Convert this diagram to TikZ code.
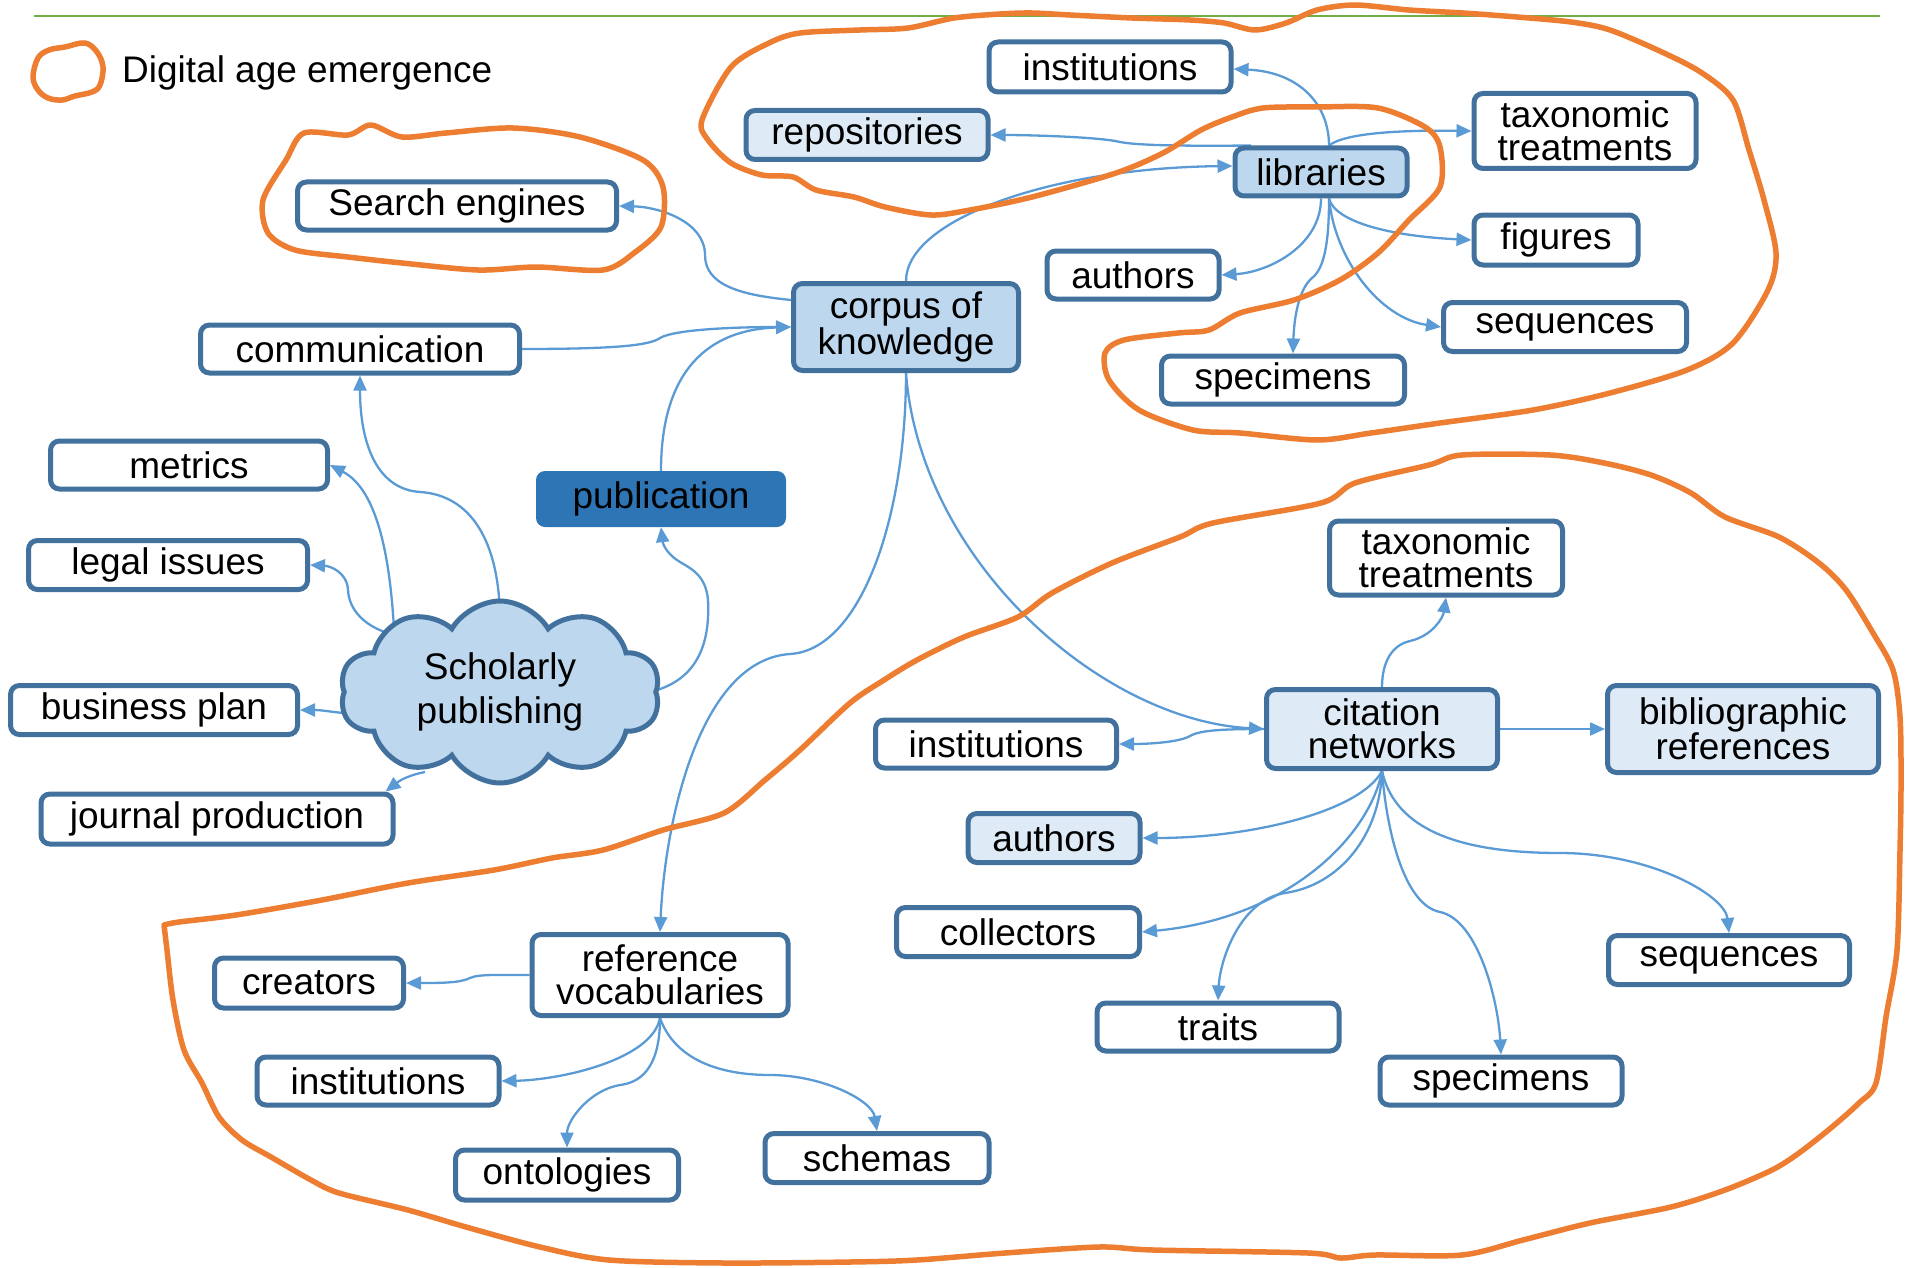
\documentclass[tikz,border=0pt]{standalone}
\usepackage{fontspec}
\setmainfont{Liberation Sans}
\usetikzlibrary{arrows.meta,shapes.symbols,backgrounds}
\definecolor{bord}{RGB}{65,113,156}
\definecolor{lightfill}{RGB}{222,235,247}
\definecolor{midfill}{RGB}{189,215,238}
\definecolor{pubblue}{RGB}{46,117,182}
\definecolor{conncol}{RGB}{91,155,213}
\definecolor{orng}{RGB}{237,125,49}
\definecolor{grn}{RGB}{112,173,71}
\begin{document}
\begin{tikzpicture}[x=1pt,y=-1pt,
  every node/.style={font=\fontsize{37}{33}\selectfont},
  sz/.style 2 args={minimum width=#1pt, minimum height=#2pt},
  box/.style={draw=bord, line width=5pt, rounded corners=9pt, fill=white, inner sep=0pt, align=center},
  lbox/.style={box, fill=lightfill},
  mbox/.style={box, fill=midfill},
  conn/.style={draw=conncol, line width=2.3pt, -{Triangle[length=15pt,width=13pt]}},
  blob/.style={draw=orng, line width=5.5pt, line join=round, line cap=round},
]
\useasboundingbox (0,0) rectangle (1905,1268);
\draw[grn, line width=2.5pt] (34,16) -- (1880,16);
\node[anchor=west, inner sep=0pt] (leg) at (122,73) {Digital age emergence};

% top cluster
\node[box, sz={242}{50}] (inst1) at (1110,67) {institutions};
\node[lbox, sz={242}{49}] (repo) at (867,135) {repositories};
\node[mbox, sz={172}{48}] (lib) at (1321,172) {libraries};
\node[box, sz={222}{75}] (tax1) at (1585,131) {taxonomic\\treatments};
\node[box, sz={164}{50}] (fig) at (1556,240) {figures};
\node[box, sz={172}{48}] (auth1) at (1133,275) {authors};
\node[box, sz={243}{49}] (seq1) at (1565,327) {sequences};
\node[box, sz={243}{48}] (spec1) at (1283,380) {specimens};

% left
\node[box, sz={319}{48}] (se) at (457,206) {Search engines};
\node[box, sz={319}{48}] (comm) at (360,349) {communication};
\node[mbox, sz={225}{87}] (corp) at (906,327) {corpus of\\knowledge};
\node[box, sz={277}{48}] (metr) at (189,465) {metrics};
\node[fill=pubblue, rounded corners=9pt, inner sep=0pt, sz={250}{56}] (pub) at (661,499) {publication};
\node[box, sz={279}{49}] (legal) at (168,565) {legal issues};
\node[cloud, cloud puffs=10, cloud puff arc=120, cloud ignores aspect, minimum width=320pt, minimum height=182pt, draw=bord, fill=midfill, line width=5pt, inner sep=0pt, align=center] (cloud) at (500,692) {Scholarly\\[9pt]publishing};
\node[box, sz={287}{49}] (bp) at (154,710) {business plan};
\node[box, sz={352}{50}] (jp) at (217,819) {journal production};

% right bottom
\node[box, sz={233}{74}] (tax2) at (1446,558) {taxonomic\\treatments};
\node[lbox, sz={231}{79}] (cn) at (1382,729) {citation\\networks};
\node[lbox, sz={271}{87}] (bib) at (1743,729) {bibliographic\\references};
\node[box, sz={241}{48}] (inst2) at (996,744) {institutions};
\node[lbox, sz={172}{49}] (auth2) at (1054,838) {authors};
\node[box, sz={243}{49}] (coll) at (1018,932) {collectors};
\node[box, sz={242}{48}] (traits) at (1218,1027) {traits};
\node[box, sz={241}{49}] (seq2) at (1729,960) {sequences};
\node[box, sz={242}{48}] (spec2) at (1501,1081) {specimens};

% left bottom
\node[box, sz={256}{81}] (rv) at (660,975) {reference\\vocabularies};
\node[box, sz={189}{50}] (creat) at (309,983) {creators};
\node[box, sz={242}{48}] (inst3) at (378,1081) {institutions};
\node[box, sz={223}{50}] (onto) at (567,1175) {ontologies};
\node[box, sz={224}{49}] (schem) at (877,1158) {schemas};

\begin{pgfonlayer}{background}
\draw[conn] ([yshift=27pt]corp.west) .. controls (740,295) and (705,285) .. (705,255) .. controls (705,222) and (660,207) .. (se.east);
\draw[conn] (comm.east) .. controls (620,349) and (650,345) .. (660,338) .. controls (675,329) and (740,327) .. (corp.west);
\draw[conn] (pub.north) .. controls (661,380) and (700,330) .. (corp.west);
\draw[conn] (corp.north) .. controls (906,220) and (1050,168) .. ([yshift=6pt]lib.west);
\draw[conn] ([xshift=8pt]lib.north) .. controls (1329,105) and (1300,72) .. ([yshift=-2pt]inst1.east);
\draw[conn] ([xshift=-70pt]lib.north) .. controls (1200,146) and (1140,146) .. (1120,142) .. controls (1100,137) and (1030,135) .. (repo.east);
\draw[conn] ([xshift=8pt]lib.north) .. controls (1345,133) and (1400,130) .. (tax1.west);
\draw[conn] ([xshift=8pt]lib.south) .. controls (1335,222) and (1390,236) .. (fig.west);
\draw[conn] (lib.south) .. controls (1321,245) and (1270,272) .. (auth1.east);
\draw[conn] ([xshift=8pt]lib.south) .. controls (1329,240) and (1325,268) .. (1312,278) .. controls (1298,290) and (1294,320) .. ([xshift=10pt]spec1.north);
\draw[conn] ([xshift=8pt]lib.south) .. controls (1335,260) and (1380,318) .. (seq1.west);
\draw[conn] ([shift={(0,-70)}]cloud.center) .. controls (500,540) and (470,495) .. (420,492) .. controls (375,489) and (360,440) .. (comm.south);
\draw[conn] ([shift={(-105,-40)}]cloud.center) .. controls (392,560) and (378,490) .. (metr.east);
\draw[conn] ([shift={(-105,-57)}]cloud.center) .. controls (365,628) and (349,610) .. (348,590) .. controls (347,572) and (330,566) .. (legal.east);
\draw[conn] ([shift={(-135,22)}]cloud.center) .. controls (340,714) and (325,710) .. (bp.east);
\draw[conn] ([shift={(-75,80)}]cloud.center) .. controls (405,776) and (398,782) .. ([xshift=-10pt]jp.north east);
\draw[conn] ([shift={(150,0)}]cloud.center) .. controls (700,680) and (710,640) .. (708,600) .. controls (706,575) and (690,568) .. (680,562) .. controls (668,555) and (663,545) .. (pub.south);
\draw[conn] (corp.south) .. controls (906,520) and (860,650) .. (790,654) .. controls (700,660) and (665,820) .. (rv.north);
\draw[conn] (corp.south) .. controls (920,560) and (1100,720) .. (cn.west);
\draw[conn] (cn.north) .. controls (1382,662) and (1392,645) .. (1410,641) .. controls (1432,636) and (1443,618) .. (tax2.south);
\draw[conn] (cn.east) -- (bib.west);
\draw[conn] (cn.west) .. controls (1225,729) and (1200,730) .. (1190,736) .. controls (1180,742) and (1150,744) .. (inst2.east);
\draw[conn] (cn.south) .. controls (1360,812) and (1250,838) .. (auth2.east);
\draw[conn] (cn.south) .. controls (1370,835) and (1290,918) .. (coll.east);
\draw[conn] (cn.south) .. controls (1380,835) and (1340,885) .. (1285,893) .. controls (1240,900) and (1220,960) .. (traits.north);
\draw[conn] (cn.south) .. controls (1387,835) and (1405,905) .. (1440,912) .. controls (1478,920) and (1498,1000) .. (spec2.north);
\draw[conn] (cn.south) .. controls (1395,830) and (1460,853) .. (1560,853) .. controls (1650,853) and (1725,895) .. (seq2.north);
\draw[conn] (rv.west) .. controls (500,975) and (478,974) .. (470,978) .. controls (460,983) and (440,983) .. (creat.east);
\draw[conn] (rv.south) .. controls (652,1060) and (560,1080) .. (inst3.east);
\draw[conn] (rv.south) .. controls (660,1062) and (645,1082) .. (620,1085) .. controls (590,1090) and (567,1120) .. (onto.north);
\draw[conn] (rv.south) .. controls (675,1060) and (720,1075) .. (770,1075) .. controls (822,1075) and (872,1100) .. (schem.north);
\end{pgfonlayer}

% orange outlines
\draw[blob] plot[smooth cycle, tension=0.6] coordinates {(33,77) (38,58) (49,50) (65,47) (85,43) (97,52) (103,67) (100,85) (92,92) (75,96) (62,100) (48,98) (38,90)};
\draw[blob] plot[smooth cycle, tension=0.5] coordinates {(263,200) (286,160) (304,133) (348,135) (371,125) (402,137) (446,133) (513,128) (580,137) (643,160) (663,187) (661,227) (634,253) (603,270) (536,267) (478,270) (402,263) (348,257) (295,250) (268,233)};
\draw[blob] plot[smooth cycle, tension=0.5] coordinates {(702,120) (731,67) (769,43) (800,33) (860,30) (908,28) (954,18) (1000,14) (1032,13) (1070,15) (1132,18) (1190,20) (1224,23) (1255,30) (1286,23) (1317,10) (1355,5) (1409,10) (1463,13) (1517,17) (1571,22) (1610,30) (1664,53) (1702,73) (1733,100) (1749,150) (1764,200) (1776,253) (1768,290) (1733,343) (1687,370) (1610,393) (1533,410) (1440,423) (1371,433) (1317,440) (1240,433) (1193,430) (1139,410) (1109,380) (1105,353) (1124,340) (1178,333) (1209,330) (1240,313) (1294,300) (1340,280) (1378,253) (1409,220) (1440,187) (1440,147) (1425,127) (1378,108) (1317,107) (1263,108) (1232,117) (1201,130) (1163,153) (1116,173) (1032,197) (970,210) (931,215) (885,207) (854,197) (816,190) (793,177) (762,175) (731,163) (708,140)};
\draw[blob] plot[smooth, tension=0.5] coordinates {(164,925) (179,922) (236,915) (322,900) (408,883) (494,870) (552,858) (603,850) (663,830) (724,813) (765,780) (800,750) (850,703) (884,680) (917,660) (964,637) (1018,617) (1052,593) (1112,563) (1180,537) (1213,523) (1321,503) (1355,483) (1429,465) (1462,455) (1550,455) (1604,463) (1651,475) (1691,493) (1725,517) (1779,537) (1819,563) (1846,590) (1873,633) (1893,670) (1900,717) (1901,783) (1900,850) (1897,950) (1886,1017) (1876,1083) (1859,1103) (1832,1127) (1799,1153) (1772,1170) (1725,1190) (1671,1207) (1590,1223) (1523,1240) (1462,1255) (1375,1255) (1341,1258) (1308,1253) (1153,1250) (1099,1247) (1005,1253) (917,1260) (850,1262) (724,1263) (609,1260) (540,1247) (466,1227) (408,1210) (339,1193) (311,1180) (271,1157) (242,1140) (219,1117) (202,1083) (184,1050) (173,1000) (167,950) (164,925)};
\end{tikzpicture}
\end{document}
